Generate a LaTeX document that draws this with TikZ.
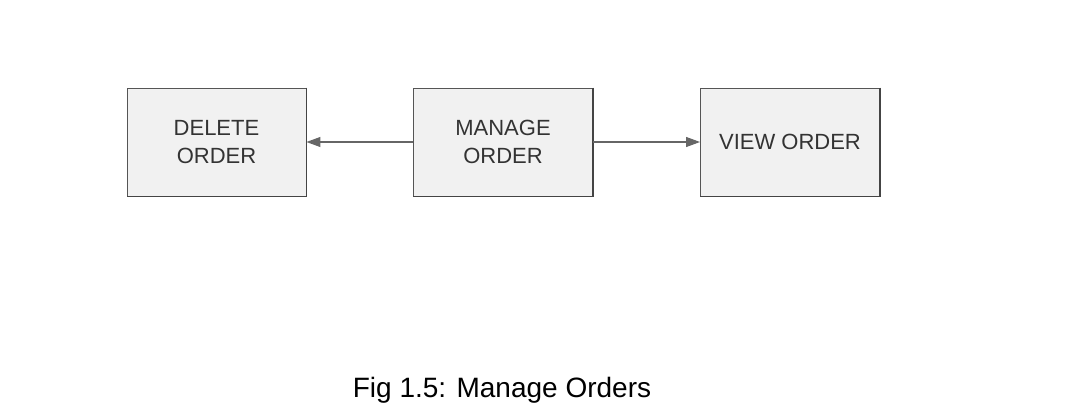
\documentclass[tikz,border=0pt]{standalone}
\usepackage{fontspec}
\setmainfont{Liberation Sans}
\usetikzlibrary{arrows.meta,shadows}
\definecolor{boxline}{HTML}{555555}
\definecolor{boxfill}{HTML}{F1F1F1}
\definecolor{txt}{HTML}{333333}
\definecolor{arr}{HTML}{666666}
\tikzset{
  procbox/.style={draw=boxline, line width=0.9pt, fill=boxfill,
    minimum width=179pt, minimum height=108pt, inner sep=0pt,
    align=center, text=txt, font=\fontsize{22}{28}\selectfont},
  conn/.style={draw=arr, line width=1.1pt, -{Triangle[length=14pt,width=10pt]}},
}
\begin{document}
\begin{tikzpicture}[x=1pt,y=1pt]
\useasboundingbox (0,0) rectangle (1080,408);
\node[procbox] (del) at (216.5,266) {DELETE\\ORDER};
\node[procbox] (man) at (503,266) {MANAGE\\ORDER};
\node[procbox] (view) at (790,266) {VIEW ORDER};
% darker right/bottom edges
\foreach \n in {del,man,view}{
  \draw[boxline!80!black, line width=1.8pt] (\n.north east) -- (\n.south east) -- (\n.south west);
}
\draw[conn] (man.west) -- (del.east);
\draw[conn] (man.east) -- (view.west);
\node[font=\fontsize{28}{34}\selectfont, anchor=base] (cap) at (502,11) {Fig 1.5: Manage Orders};
\end{tikzpicture}
\end{document}
